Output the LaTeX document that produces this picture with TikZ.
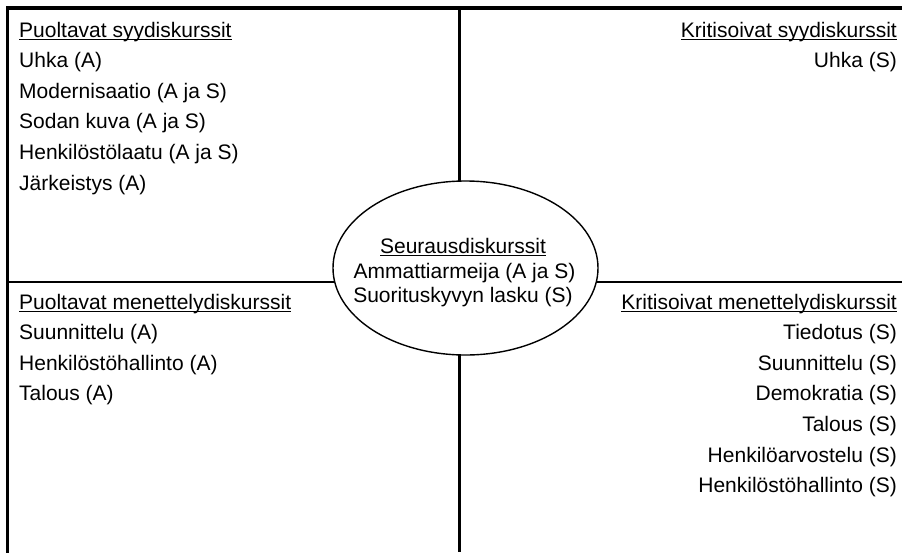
\documentclass[tikz,border=0pt]{standalone}
\usepackage{fontspec}
\setmainfont{Liberation Sans}
\newcommand\myul[1]{\leavevmode\setbox0\hbox{#1}\rlap{\rule[-2.8pt]{\wd0}{1.1pt}}\box0}
\begin{document}
\begin{tikzpicture}[x=1pt,y=-1pt,
  txt/.style={inner sep=0pt,font=\fontsize{21}{24}\selectfont},
  lt/.style={txt,anchor=base west},
  rt/.style={txt,anchor=base east},
  ct/.style={txt,anchor=base},
  frame/.style={line width=3.2pt,line cap=rect},
  divider/.style={line width=2.4pt}]
\useasboundingbox (0,0) rectangle (902,552);
% frame and dividers
\coordinate (tl) at (7.6,8);
\coordinate (tr) at (902,8);
\coordinate (bl) at (7.6,552);
\coordinate (vt) at (459.5,8);
\coordinate (vb) at (459.5,552);
\coordinate (hl) at (7.6,282);
\coordinate (hr) at (902,282);
\draw[divider] (vt) -- (vb);
\draw[divider] (hl) -- (hr);
\draw[frame] (tr) -- (tl) -- (bl);
% centre ellipse
\draw[line width=1.4pt,fill=white] (465.5,268) ellipse [x radius=132.5,y radius=87];
\node[ct] (c0) at (463,253) {\myul{Seurausdiskurssit}};
\node[ct] (c1) at (464.5,278.5) {Ammattiarmeija (A ja S)};
\node[ct] (c2) at (463,302.5) {Suorituskyvyn lasku (S)};
% upper left
\node[lt] (ul0) at (19,37) {\myul{Puoltavat syydiskurssit}};
\node[lt] (ul1) at (19,67.6) {Uhka (A)};
\node[lt] (ul2) at (19,98.2) {Modernisaatio (A ja S)};
\node[lt] (ul3) at (19,128.8) {Sodan kuva (A ja S)};
\node[lt] (ul4) at (19,159.4) {Henkilöstölaatu (A ja S)};
\node[lt] (ul5) at (19,190) {Järkeistys (A)};
% upper right
\node[rt] (ur0) at (897,37) {\myul{Kritisoivat syydiskurssit}};
\node[rt] (ur1) at (897,67.6) {Uhka (S)};
% lower left
\node[lt] (ll0) at (19,309) {\myul{Puoltavat menettelydiskurssit}};
\node[lt] (ll1) at (19,339.6) {Suunnittelu (A)};
\node[lt] (ll2) at (19,370.2) {Henkilöstöhallinto (A)};
\node[lt] (ll3) at (19,400.8) {Talous (A)};
% lower right
\node[rt] (lr0) at (897,309) {\myul{Kritisoivat menettelydiskurssit}};
\node[rt] (lr1) at (897,339.6) {Tiedotus (S)};
\node[rt] (lr2) at (897,370.2) {Suunnittelu (S)};
\node[rt] (lr3) at (897,400.8) {Demokratia (S)};
\node[rt] (lr4) at (897,431.4) {Talous (S)};
\node[rt] (lr5) at (897,462) {Henkilöarvostelu (S)};
\node[rt] (lr6) at (897,492.6) {Henkilöstöhallinto (S)};
\end{tikzpicture}
\end{document}
